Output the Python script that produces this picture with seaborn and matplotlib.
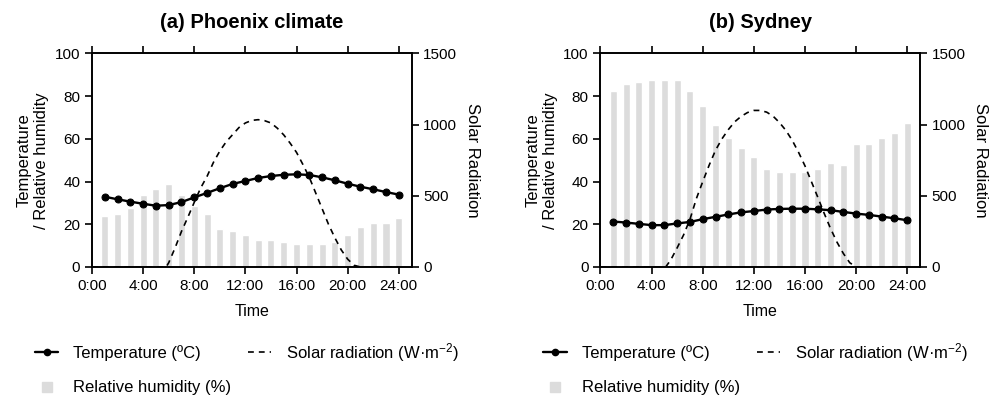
import pandas as pd
import seaborn as sns
import matplotlib.pyplot as plt
from matplotlib.lines import Line2D

hours = list(range(1, 25))

phx_temp = [32.9, 31.7, 30.6, 29.6, 28.7, 29.0, 30.4, 32.6, 34.7, 36.9, 38.9, 40.3,
            41.7, 42.6, 43.2, 43.4, 43.1, 42.0, 40.6, 39.0, 37.6, 36.4, 35.1, 33.9]
phx_rh = [24.0, 25.0, 27.8, 33.9, 36.7, 39.0, 33.9, 28.7, 25.0, 17.8, 16.9, 15.1,
          12.6, 12.6, 11.7, 10.8, 10.8, 10.8, 11.7, 15.1, 18.7, 20.6, 20.6, 23.0]
phx_sol_t = [0, 5.0, 5.8, 6.0, 6.5, 7.0, 7.5, 8.0, 8.5, 9.0, 9.5, 10.0, 10.5, 11.0,
             11.5, 12.0, 12.5, 13.0, 13.5, 14.0, 14.5, 15.0, 15.5, 16.0, 16.5, 17.0,
             17.5, 18.0, 18.5, 19.0, 19.5, 20.0, 20.5, 21.0, 24.0]
phx_sol = [0, 0, 0, 30, 135, 250, 350, 455, 555, 637, 735, 815, 880, 930, 980, 1012,
           1030, 1035, 1028, 1012, 975, 928, 870, 805, 720, 630, 520, 410, 300, 205,
           120, 55, 12, 0, 0]

syd_temp = [21.3, 20.8, 20.2, 19.6, 19.6, 20.4, 21.1, 22.4, 23.5, 24.6, 25.6, 26.2,
            26.9, 27.2, 27.3, 27.3, 27.0, 26.6, 25.8, 25.0, 24.4, 23.6, 22.8, 21.9]
syd_rh = [82.4, 85.9, 86.7, 87.6, 87.6, 87.6, 82.4, 75.4, 66.5, 60.4, 55.7, 51.5,
          45.9, 44.5, 44.5, 44.5, 45.9, 48.7, 47.8, 57.6, 57.6, 60.4, 62.8, 67.4]
syd_sol_t = [0, 4.5, 5.1, 5.5, 6.0, 6.5, 7.0, 7.5, 8.0, 8.5, 9.0, 9.5, 10.0, 10.5,
             11.0, 11.5, 12.0, 12.5, 13.0, 13.5, 14.0, 14.5, 15.0, 15.5, 16.0, 16.5,
             17.0, 17.5, 18.0, 18.5, 19.0, 19.5, 20.0, 24.0]
syd_sol = [0, 0, 0, 50, 135, 225, 335, 480, 600, 715, 820, 900, 965, 1020, 1058, 1085,
           1100, 1100, 1088, 1060, 1015, 960, 890, 805, 710, 600, 490, 377, 270, 175,
           95, 30, 0, 0]

titles = ['(a) Phoenix climate', '(b) Sydney']
x_ticks = [0, 4, 8, 12, 16, 20, 24]
x_labels = ['0:00', '4:00', '8:00', '12:00', '16:00', '20:00', '24:00']

sns.set_style('ticks')
plt.rcParams['font.family'] = ['Liberation Sans', 'DejaVu Sans']
plt.rcParams['mathtext.fontset'] = 'custom'
plt.rcParams['mathtext.rm'] = 'Liberation Sans'
plt.rcParams['mathtext.default'] = 'regular'
plt.rcParams['axes.linewidth'] = 1.2
plt.rcParams['xtick.major.width'] = 1.2
plt.rcParams['ytick.major.width'] = 1.2
plt.rcParams['xtick.major.size'] = 5
plt.rcParams['ytick.major.size'] = 5
plt.rcParams['text.color'] = 'black'
plt.rcParams['axes.labelcolor'] = 'black'

fig = plt.figure(figsize=(9.97, 3.96), dpi=100)

panels = [
    (phx_temp, phx_rh, phx_sol_t, phx_sol, 0.0923),
    (syd_temp, syd_rh, syd_sol_t, syd_sol, 0.6023),
]
bar_color = '#dcdcdc'

for i, (temp, rh, sol_t, sol, x0) in enumerate(panels):
    ax = fig.add_axes([x0, 0.3258, 0.3205, 0.5391])
    clim = pd.DataFrame({'hour': hours, 'temp': temp, 'rh': rh})
    solar = pd.DataFrame({'t': sol_t, 'sol': sol})

    sns.barplot(data=clim, x='hour', y='rh', native_scale=True, color=bar_color,
                saturation=1, width=0.55, errorbar=None, ax=ax, zorder=1)
    sns.lineplot(data=clim, x='hour', y='temp', color='black', lw=1.7, marker='o',
                 markersize=5, markeredgecolor='black', ax=ax, zorder=3)

    ax2 = ax.twinx()
    sns.lineplot(data=solar, x='t', y='sol', color='black', lw=1.2, ax=ax2,
                 dashes=False, sort=False)
    ax2.lines[0].set_dashes((3.5, 3))

    ax.set_xlim(0, 25)
    ax.set_ylim(0, 100)
    ax.set_yticks([0, 20, 40, 60, 80, 100])
    ax.set_xticks(x_ticks)
    ax.set_xticklabels(x_labels)
    ax2.set_ylim(0, 1500)
    ax2.set_yticks([0, 500, 1000, 1500])
    ax.tick_params(top=True, direction='out', labelsize=11, colors='black')
    ax2.tick_params(direction='out', labelsize=11, colors='black')
    for a in (ax, ax2):
        for s in a.spines.values():
            s.set_visible(True)
            s.set_color('black')

    ax.set_xlabel('Time', fontsize=11.5, labelpad=8)
    ax.set_ylabel('Temperature\n/ Relative humidity', fontsize=12, labelpad=4)
    ax2.set_ylabel('Solar Radiation', fontsize=12, rotation=-90, labelpad=16)

    cx = x0 + 0.3205 / 2
    fig.text(cx, 1 - 22 / 396, titles[i], ha='center', va='center',
             fontsize=14.5, fontweight='bold')

    handles = [
        Line2D([], [], color='black', lw=1.7, marker='o', markersize=4.5),
        Line2D([], [], color=bar_color, ls='none', marker='s', markersize=6.5),
        Line2D([], [], color='black', lw=1.2, ls=(0, (3.5, 3))),
    ]
    labels = ['Temperature (ºC)', 'Relative humidity (%)', 'Solar radiation (W·m$^{-2}$)']
    ax.legend(handles, labels, loc='upper left', ncol=2, frameon=False, fontsize=12,
              bbox_to_anchor=(x0 - 57 / 997, 1 - 341 / 396),
              bbox_transform=fig.transFigure, borderaxespad=0, borderpad=0,
              handlelength=1.4, handletextpad=0.9, columnspacing=1.0,
              labelspacing=1.15)

plt.savefig('out.png', dpi=100)
